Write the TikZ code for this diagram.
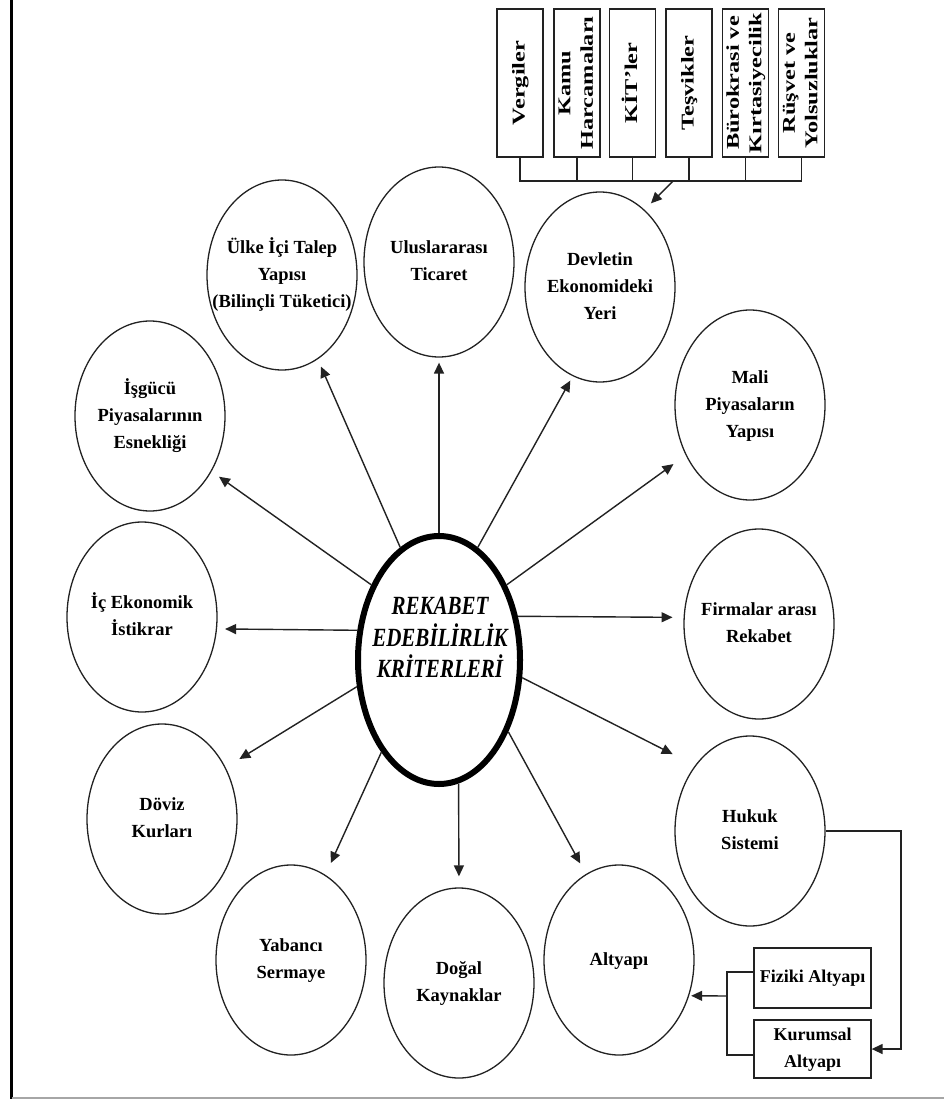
\documentclass[tikz,border=0pt]{standalone}
\usepackage{fontspec}
\setmainfont{Liberation Serif}
\usetikzlibrary{shapes.geometric,arrows.meta,calc}
\definecolor{linec}{HTML}{222222}
\newcommand\ctxt[1]{\makebox[0pt]{\begin{tabular}{@{}c@{}}#1\end{tabular}}}
\newcommand\vtxt[1]{\rotatebox{90}{\scalebox{1.35}[1]{\bfseries\fontsize{18}{22.5}\selectfont\begin{tabular}{@{}c@{}}#1\end{tabular}}}}
\begin{document}
\begin{tikzpicture}[x=1pt,y=-1pt,
  crit/.style={ellipse,draw=linec,line width=1.3pt,minimum width=150pt,minimum height=190pt,inner sep=0pt,font=\bfseries\fontsize{18.5}{27}\selectfont},
  arr/.style={draw=linec,line width=1.4pt,-{Triangle[length=11pt,width=10pt]}},
  vbox/.style={draw=linec,line width=1.3pt,minimum width=46pt,minimum height=148pt,inner sep=0pt},
  hbox/.style={draw=linec,line width=1.3pt,minimum width=117pt,inner sep=0pt,font=\bfseries\fontsize{18}{27}\selectfont},
  conn/.style={draw=linec,line width=1.3pt}]
\useasboundingbox (0,0) rectangle (944,1099);
\fill[white] (0,0) rectangle (944,1099);
% frame lines
\draw[black,line width=3pt] (11.5,0) -- (11.5,1099);
\draw[black!35,line width=2pt] (12,1097.5) -- (944,1097.5);

% central ellipse
\node[ellipse,draw=black,line width=6pt,minimum width=162pt,minimum height=248pt,inner sep=0pt] (c) at (439,660) {};
\node[font=\bfseries\itshape\fontsize{21}{24}\selectfont,inner sep=0pt] (ct) at (440,640)
  {\scalebox{1}[1.25]{\begin{tabular}{@{}c@{}}REKABET\\EDEBİLİRLİK\\KRİTERLERİ\end{tabular}}};

% criteria
\node[crit] (ulke)   at (282,275) {\ctxt{Ülke İçi Talep\\Yapısı\\(Bilinçli Tüketici)}};
\node[crit] (ulus)   at (439,262) {\ctxt{Uluslararası\\Ticaret}};
\node[crit] (devlet) at (600,287) {\ctxt{Devletin\\Ekonomideki\\Yeri}};
\node[crit] (mali)   at (750,405) {\ctxt{Mali\\Piyasaların\\Yapısı}};
\node[crit] (firma)  at (759,624) {\ctxt{Firmalar arası\\Rekabet}};
\node[crit] (hukuk)  at (750,831) {\ctxt{Hukuk\\Sistemi}};
\node[crit] (alt)    at (619,960) {\ctxt{Altyapı}};
\node[crit] (dogal)  at (459,983) {\ctxt{Doğal\\Kaynaklar}};
\node[crit] (yab)    at (291,960) {\ctxt{Yabancı\\Sermaye}};
\node[crit] (doviz)  at (162,819) {\ctxt{Döviz\\Kurları}};
\node[crit] (icek)   at (142,617) {\ctxt{İç Ekonomik\\İstikrar}};
\node[crit] (isg)    at (150,416) {\ctxt{İşgücü\\Piyasalarının\\Esnekliği}};

% arrows from centre
\draw[arr,shorten >=8pt]  (c.109)  -- (ulke.-67);
\draw[arr,shorten >=5pt]  (c.90)   -- (ulus.-90);
\draw[arr,shorten >=5pt]  (c.71)   -- (devlet.-107);
\draw[arr,shorten >=15pt] (c.48)   -- (mali.-142);
\draw[arr,shorten >=11pt] (c.29)   -- (firma.175);
\draw[arr,shorten >=25pt] (c.-12)  -- (hukuk.130);
\draw[arr,shorten >=12pt] (c.-46)  -- (alt.111);
\draw[arr,shorten >=11pt] (c.-81)  -- (dogal.90);
\draw[arr,shorten >=13pt] (c.-122) -- (yab.68);
\draw[arr,shorten >=16pt] (c.-162) -- (doviz.39);
\draw[arr,shorten >=8pt]  (c.160)  -- (icek.-9);
\draw[arr,shorten >=9pt]  (c.132)  -- (isg.-42);

% top boxes
\node[vbox] (verg) at (520,83)   {\vtxt{Vergiler}};
\node[vbox] (kamu) at (577,83)   {\vtxt{Kamu\\Harcamaları}};
\node[vbox] (kit)  at (632.5,83) {\vtxt{KİT'ler}};
\node[vbox] (tesv) at (689,83)   {\vtxt{Teşvikler}};
\node[vbox] (buro) at (745.5,83) {\vtxt{Bürokrasi ve\\Kırtasiyecilik}};
\node[vbox] (rus)  at (801.5,83) {\vtxt{Rüşvet ve\\Yolsuzluklar}};
\coordinate (bus) at (0,181);
\draw[conn] (verg.south) -- (verg.south |- bus) -- (rus.south |- bus) -- (rus.south);
\foreach \b in {kamu,kit,tesv,buro}{\draw[conn] (\b.south) -- (\b.south |- bus);}
\coordinate (busA) at (673,181);
\draw[arr,shorten >=9pt] (busA) -- (devlet.60);

% bottom right boxes
\node[hbox,minimum height=60pt] (fiz) at (812.5,978) {Fiziki Altyapı};
\node[hbox,minimum height=58pt] (kur) at (812.5,1049) {\begin{tabular}{@{}c@{}}Kurumsal\\Altyapı\end{tabular}};
\coordinate (rx) at (901,0);
\draw[arr] (hukuk.east) -- (hukuk.east -| rx) |- (kur.east);
\coordinate (fizS) at ($(fiz.north west)!0.4!(fiz.south west)$);
\coordinate (kurS) at ($(kur.north west)!0.6!(kur.south west)$);
\coordinate (bx) at (727,0);
\draw[conn] (fizS) -- (fizS -| bx) -- (kurS -| bx) -- (kurS);
\coordinate (bxa) at (727,996);
\draw[arr,shorten >=2pt] (bxa) -- (alt.-27);
\end{tikzpicture}
\end{document}
